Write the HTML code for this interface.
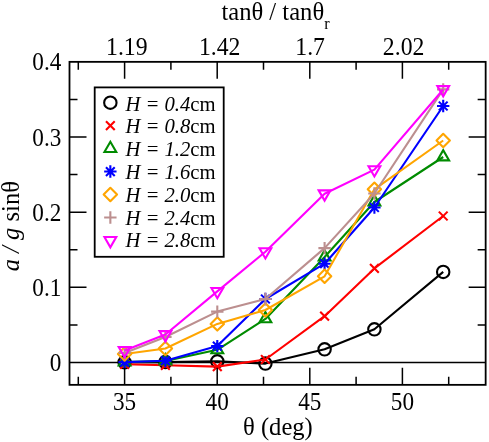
<!DOCTYPE html><html><head><meta charset="utf-8"><title>plot</title><style>html,body{margin:0;padding:0;background:#fff;overflow:hidden}svg{display:block;will-change:transform}text{font-family:"Liberation Serif",serif;fill:#000}</style></head><body>
<svg width="489" height="442" viewBox="0 0 489 442">
<rect width="489" height="442" fill="#fff"/>
<path d="M69.5 362.5L485.65 362.5" stroke="#000" stroke-width="1.5"/>
<polyline points="124.6,362.3 165.4,362.1 217.3,361.3 265.4,363.6 324.6,349.3 374.4,329.3 443.2,271.9" fill="none" stroke="#000000" stroke-width="2.1" stroke-linejoin="round"/>
<circle cx="124.60" cy="362.30" r="6.20" stroke="#000000" stroke-width="2.1" fill="none"/>
<circle cx="165.40" cy="362.10" r="6.20" stroke="#000000" stroke-width="2.1" fill="none"/>
<circle cx="217.30" cy="361.30" r="6.20" stroke="#000000" stroke-width="2.1" fill="none"/>
<circle cx="265.40" cy="363.60" r="6.20" stroke="#000000" stroke-width="2.1" fill="none"/>
<circle cx="324.60" cy="349.30" r="6.20" stroke="#000000" stroke-width="2.1" fill="none"/>
<circle cx="374.40" cy="329.30" r="6.20" stroke="#000000" stroke-width="2.1" fill="none"/>
<circle cx="443.20" cy="271.90" r="6.20" stroke="#000000" stroke-width="2.1" fill="none"/>
<polyline points="124.6,364.3 165.4,365.3 217.3,366.6 265.4,359.5 324.6,316.2 374.4,268.4 443.2,216.0" fill="none" stroke="#ff0000" stroke-width="2.1" stroke-linejoin="round"/>
<path d="M120.22 359.92L128.98 368.68M120.22 368.68L128.98 359.92" stroke="#ff0000" stroke-width="2.1" fill="none"/>
<path d="M161.02 360.92L169.78 369.68M161.02 369.68L169.78 360.92" stroke="#ff0000" stroke-width="2.1" fill="none"/>
<path d="M212.92 362.22L221.68 370.98M212.92 370.98L221.68 362.22" stroke="#ff0000" stroke-width="2.1" fill="none"/>
<path d="M261.02 355.12L269.78 363.88M261.02 363.88L269.78 355.12" stroke="#ff0000" stroke-width="2.1" fill="none"/>
<path d="M320.22 311.82L328.98 320.58M320.22 320.58L328.98 311.82" stroke="#ff0000" stroke-width="2.1" fill="none"/>
<path d="M370.02 264.02L378.78 272.78M370.02 272.78L378.78 264.02" stroke="#ff0000" stroke-width="2.1" fill="none"/>
<path d="M438.82 211.62L447.58 220.38M438.82 220.38L447.58 211.62" stroke="#ff0000" stroke-width="2.1" fill="none"/>
<polyline points="124.6,362.0 165.4,361.0 217.3,349.8 265.4,318.9 324.6,257.0 374.4,202.0 443.2,157.0" fill="none" stroke="#008b00" stroke-width="2.1" stroke-linejoin="round"/>
<path d="M118.69 365.41L124.60 355.18L130.51 365.41Z" stroke="#008b00" stroke-width="2.1" fill="none"/>
<path d="M159.49 364.41L165.40 354.18L171.31 364.41Z" stroke="#008b00" stroke-width="2.1" fill="none"/>
<path d="M211.39 353.21L217.30 342.98L223.21 353.21Z" stroke="#008b00" stroke-width="2.1" fill="none"/>
<path d="M259.49 322.31L265.40 312.08L271.31 322.31Z" stroke="#008b00" stroke-width="2.1" fill="none"/>
<path d="M318.69 260.41L324.60 250.18L330.51 260.41Z" stroke="#008b00" stroke-width="2.1" fill="none"/>
<path d="M368.49 205.41L374.40 195.18L380.31 205.41Z" stroke="#008b00" stroke-width="2.1" fill="none"/>
<path d="M437.29 160.41L443.20 150.18L449.11 160.41Z" stroke="#008b00" stroke-width="2.1" fill="none"/>
<polyline points="124.6,362.1 165.4,360.7 217.3,346.1 265.4,299.0 324.6,263.7 374.4,207.5 443.2,106.0" fill="none" stroke="#0000ff" stroke-width="2.1" stroke-linejoin="round"/>
<path d="M118.40 362.10L130.80 362.10M124.60 355.90L124.60 368.30M120.22 357.72L128.98 366.48M120.22 366.48L128.98 357.72" stroke="#0000ff" stroke-width="2.1" fill="none"/>
<path d="M159.20 360.70L171.60 360.70M165.40 354.50L165.40 366.90M161.02 356.32L169.78 365.08M161.02 365.08L169.78 356.32" stroke="#0000ff" stroke-width="2.1" fill="none"/>
<path d="M211.10 346.10L223.50 346.10M217.30 339.90L217.30 352.30M212.92 341.72L221.68 350.48M212.92 350.48L221.68 341.72" stroke="#0000ff" stroke-width="2.1" fill="none"/>
<path d="M259.20 299.00L271.60 299.00M265.40 292.80L265.40 305.20M261.02 294.62L269.78 303.38M261.02 303.38L269.78 294.62" stroke="#0000ff" stroke-width="2.1" fill="none"/>
<path d="M318.40 263.70L330.80 263.70M324.60 257.50L324.60 269.90M320.22 259.32L328.98 268.08M320.22 268.08L328.98 259.32" stroke="#0000ff" stroke-width="2.1" fill="none"/>
<path d="M368.20 207.50L380.60 207.50M374.40 201.30L374.40 213.70M370.02 203.12L378.78 211.88M370.02 211.88L378.78 203.12" stroke="#0000ff" stroke-width="2.1" fill="none"/>
<path d="M437.00 106.00L449.40 106.00M443.20 99.80L443.20 112.20M438.82 101.62L447.58 110.38M438.82 110.38L447.58 101.62" stroke="#0000ff" stroke-width="2.1" fill="none"/>
<polyline points="124.6,354.0 165.4,348.5 217.3,323.9 265.4,310.0 324.6,276.3 374.4,189.3 443.2,140.5" fill="none" stroke="#ffa500" stroke-width="2.1" stroke-linejoin="round"/>
<path d="M117.90 354.00L124.60 347.30L131.30 354.00L124.60 360.70Z" stroke="#ffa500" stroke-width="2.1" fill="none" stroke-linejoin="round"/>
<path d="M158.70 348.50L165.40 341.80L172.10 348.50L165.40 355.20Z" stroke="#ffa500" stroke-width="2.1" fill="none" stroke-linejoin="round"/>
<path d="M210.60 323.90L217.30 317.20L224.00 323.90L217.30 330.60Z" stroke="#ffa500" stroke-width="2.1" fill="none" stroke-linejoin="round"/>
<path d="M258.70 310.00L265.40 303.30L272.10 310.00L265.40 316.70Z" stroke="#ffa500" stroke-width="2.1" fill="none" stroke-linejoin="round"/>
<path d="M317.90 276.30L324.60 269.60L331.30 276.30L324.60 283.00Z" stroke="#ffa500" stroke-width="2.1" fill="none" stroke-linejoin="round"/>
<path d="M367.70 189.30L374.40 182.60L381.10 189.30L374.40 196.00Z" stroke="#ffa500" stroke-width="2.1" fill="none" stroke-linejoin="round"/>
<path d="M436.50 140.50L443.20 133.80L449.90 140.50L443.20 147.20Z" stroke="#ffa500" stroke-width="2.1" fill="none" stroke-linejoin="round"/>
<polyline points="124.6,353.0 165.4,337.0 217.3,311.6 265.4,299.0 324.6,248.1 374.4,193.5 443.2,89.4" fill="none" stroke="#bc8f8f" stroke-width="2.1" stroke-linejoin="round"/>
<path d="M118.40 353.00L130.80 353.00M124.60 346.80L124.60 359.20" stroke="#bc8f8f" stroke-width="2.1" fill="none"/>
<path d="M159.20 337.00L171.60 337.00M165.40 330.80L165.40 343.20" stroke="#bc8f8f" stroke-width="2.1" fill="none"/>
<path d="M211.10 311.60L223.50 311.60M217.30 305.40L217.30 317.80" stroke="#bc8f8f" stroke-width="2.1" fill="none"/>
<path d="M259.20 299.00L271.60 299.00M265.40 292.80L265.40 305.20" stroke="#bc8f8f" stroke-width="2.1" fill="none"/>
<path d="M318.40 248.10L330.80 248.10M324.60 241.90L324.60 254.30" stroke="#bc8f8f" stroke-width="2.1" fill="none"/>
<path d="M368.20 193.50L380.60 193.50M374.40 187.30L374.40 199.70" stroke="#bc8f8f" stroke-width="2.1" fill="none"/>
<path d="M437.00 89.40L449.40 89.40M443.20 83.20L443.20 95.60" stroke="#bc8f8f" stroke-width="2.1" fill="none"/>
<polyline points="124.6,350.4 165.4,334.5 217.3,291.4 265.4,251.7 324.6,193.8 374.4,169.6 443.2,89.5" fill="none" stroke="#ff00ff" stroke-width="2.1" stroke-linejoin="round"/>
<path d="M118.69 346.99L124.60 357.22L130.51 346.99Z" stroke="#ff00ff" stroke-width="2.1" fill="none"/>
<path d="M159.49 331.09L165.40 341.32L171.31 331.09Z" stroke="#ff00ff" stroke-width="2.1" fill="none"/>
<path d="M211.39 287.99L217.30 298.22L223.21 287.99Z" stroke="#ff00ff" stroke-width="2.1" fill="none"/>
<path d="M259.49 248.29L265.40 258.52L271.31 248.29Z" stroke="#ff00ff" stroke-width="2.1" fill="none"/>
<path d="M318.69 190.39L324.60 200.62L330.51 190.39Z" stroke="#ff00ff" stroke-width="2.1" fill="none"/>
<path d="M368.49 166.19L374.40 176.42L380.31 166.19Z" stroke="#ff00ff" stroke-width="2.1" fill="none"/>
<path d="M437.29 86.09L443.20 96.32L449.11 86.09Z" stroke="#ff00ff" stroke-width="2.1" fill="none"/>
<path d="M78.30 384.85V376.85M78.30 61.85V69.85M124.60 384.85V367.85M124.60 61.85V78.85M170.90 384.85V376.85M170.90 61.85V69.85M217.20 384.85V367.85M217.20 61.85V78.85M263.50 384.85V376.85M263.50 61.85V69.85M309.80 384.85V367.85M309.80 61.85V78.85M356.10 384.85V376.85M356.10 61.85V69.85M402.40 384.85V367.85M402.40 61.85V78.85M448.70 384.85V376.85M448.70 61.85V69.85M69.5 324.92H77.50M485.65 324.92H477.65M69.5 287.34H86.50M485.65 287.34H468.65M69.5 249.76H77.50M485.65 249.76H477.65M69.5 212.18H86.50M485.65 212.18H468.65M69.5 174.59H77.50M485.65 174.59H477.65M69.5 137.01H86.50M485.65 137.01H468.65M69.5 99.43H77.50M485.65 99.43H477.65" stroke="#000" stroke-width="1.5" fill="none"/>
<rect x="69.5" y="61.85" width="416.15" height="323.0" fill="none" stroke="#000" stroke-width="1.8"/>
<text transform="translate(124.60,410.20) scale(0.91,1)" font-size="25.5" text-anchor="middle">35</text>
<text transform="translate(217.20,410.20) scale(0.91,1)" font-size="25.5" text-anchor="middle">40</text>
<text transform="translate(309.80,410.20) scale(0.91,1)" font-size="25.5" text-anchor="middle">45</text>
<text transform="translate(402.40,410.20) scale(0.91,1)" font-size="25.5" text-anchor="middle">50</text>
<text transform="translate(126.80,54.50) scale(0.93,1)" font-size="25.5" text-anchor="middle">1.19</text>
<text transform="translate(219.70,54.50) scale(0.93,1)" font-size="25.5" text-anchor="middle">1.42</text>
<text transform="translate(310.10,54.50) scale(0.93,1)" font-size="25.5" text-anchor="middle">1.7</text>
<text transform="translate(403.60,54.50) scale(0.93,1)" font-size="25.5" text-anchor="middle">2.02</text>
<text transform="translate(61.30,371.00) scale(0.91,1)" font-size="25.5" text-anchor="end">0</text>
<text transform="translate(61.30,295.84) scale(0.91,1)" font-size="25.5" text-anchor="end">0.1</text>
<text transform="translate(61.30,220.68) scale(0.91,1)" font-size="25.5" text-anchor="end">0.2</text>
<text transform="translate(61.30,145.51) scale(0.91,1)" font-size="25.5" text-anchor="end">0.3</text>
<text transform="translate(61.30,70.35) scale(0.91,1)" font-size="25.5" text-anchor="end">0.4</text>
<text transform="translate(277.90,435.10) scale(0.957,1)" font-size="25.7" text-anchor="middle">θ (deg)</text>
<text transform="translate(275.50,20.00) scale(0.957,1)" font-size="25.7" text-anchor="middle">tanθ / tanθ<tspan font-size="17" dy="9">r</tspan></text>
<text transform="translate(18.5,226.2) rotate(-90) scale(0.957,1)" font-size="25.7" text-anchor="middle"><tspan font-style="italic">a / g</tspan> sinθ</text>
<rect x="94.7" y="87.4" width="129.0" height="169.4" fill="#fff" stroke="#000" stroke-width="1.8"/>
<circle cx="110.35" cy="102.65" r="6.20" stroke="#000000" stroke-width="2.1" fill="none"/>
<text x="125.4" y="110.55" font-size="20.65"><tspan font-style="italic">H = 0.4</tspan>cm</text>
<path d="M105.97 121.24L114.73 130.00M105.97 130.00L114.73 121.24" stroke="#ff0000" stroke-width="2.1" fill="none"/>
<text x="125.4" y="133.35" font-size="20.65"><tspan font-style="italic">H = 0.8</tspan>cm</text>
<path d="M104.44 152.00L110.35 141.77L116.26 152.00Z" stroke="#008b00" stroke-width="2.1" fill="none"/>
<text x="125.4" y="156.15" font-size="20.65"><tspan font-style="italic">H = 1.2</tspan>cm</text>
<path d="M104.15 171.56L116.55 171.56M110.35 165.36L110.35 177.76M105.97 167.18L114.73 175.94M105.97 175.94L114.73 167.18" stroke="#0000ff" stroke-width="2.1" fill="none"/>
<text x="125.4" y="178.95" font-size="20.65"><tspan font-style="italic">H = 1.6</tspan>cm</text>
<path d="M103.65 194.53L110.35 187.83L117.05 194.53L110.35 201.23Z" stroke="#ffa500" stroke-width="2.1" fill="none" stroke-linejoin="round"/>
<text x="125.4" y="201.75" font-size="20.65"><tspan font-style="italic">H = 2.0</tspan>cm</text>
<path d="M104.15 217.50L116.55 217.50M110.35 211.30L110.35 223.70" stroke="#bc8f8f" stroke-width="2.1" fill="none"/>
<text x="125.4" y="224.55" font-size="20.65"><tspan font-style="italic">H = 2.4</tspan>cm</text>
<path d="M104.44 237.06L110.35 247.29L116.26 237.06Z" stroke="#ff00ff" stroke-width="2.1" fill="none"/>
<text x="125.4" y="247.35" font-size="20.65"><tspan font-style="italic">H = 2.8</tspan>cm</text>
</svg></body></html>
